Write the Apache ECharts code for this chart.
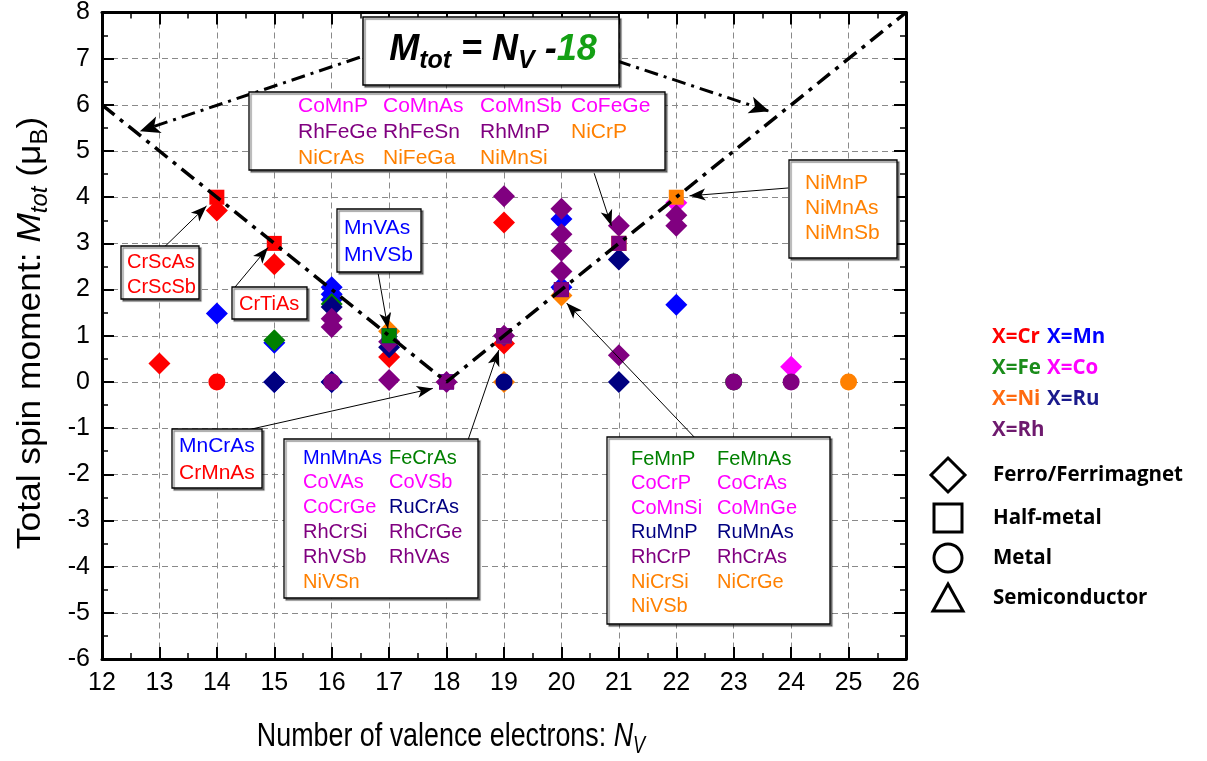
<!DOCTYPE html>
<html><head><meta charset="utf-8">
<script src="https://cdn.jsdelivr.net/npm/echarts@6/dist/echarts.min.js"></script>
<style>html,body{margin:0;padding:0;background:#fff}#c{width:1207px;height:761px}</style>
</head><body><div id="c"></div>
<script>
// ---------------- data (N_V, M_tot) ----------------
const crFerro = [[13,0.4],[14,3.71],[15,2.55],[17,0.54],[19,3.45],[19,0.83]];
const crHalf  = [[14,4],[15,3],[18,0]];
const crMetal = [[14,0]];
const mnFerro = [[14,1.48],[15,0.85],[15,0],[16,2.05],[16,1.9],[16,1.78],[16,0],[20,3.53],[20,2.05],[22,1.67]];
const mnHalf  = [[17,1],[18,0],[19,1]];
const mnMetal = [];
const feFerro = [[15,0.9],[16,1.69]];
const feHalf  = [[17,1],[19,1],[20,2],[21,3]];
const feMetal = [[23,0]];
const coFerro = [[22,3.88],[24,0.33]];
const coHalf  = [[19,1],[20,2],[21,3]];
const coMetal = [];
const niFerro = [[17,1.1],[19,0],[20,1.87]];
const niHalf  = [[19,1],[20,2],[21,3],[22,4]];
const niMetal = [[25,0]];
const ruFerro = [[15,0],[16,1.62],[16,0],[17,0.75],[21,2.65],[21,0]];
const ruHalf  = [[19,1],[20,2]];
const ruMetal = [[19,0]];
const rhFerro = [[16,1.37],[16,1.19],[17,0.87],[17,0.04],[18,0],[19,4.02],[19,1.0],[20,3.75],[20,3.2],[20,2.84],[20,2.39],[21,3.38],[21,0.58],[22,3.61],[22,3.38]];
const rhHalf  = [[18,0],[19,1],[20,2],[21,3]];
const rhMetal = [[16,0],[23,0],[24,0]];

// guide line M_tot = |N_V - 18|
const guideLine = [[12,6],[18,0],[26,8]];

// annotation arrows (data coordinates: from -> to)
const pointerArrows = [
  [[13.06,2.89],[13.82,3.81]],
  [[14.28,2.0],[14.89,2.91]],
  [[16.81,2.34],[16.98,1.15]],
  [[14.57,-1.03],[17.76,-0.14]],
  [[18.37,-1.27],[18.91,0.69]],
  [[22.34,-1.23],[20.09,1.71]],
  [[20.57,4.52],[20.87,3.38]],
  [[23.95,4.2],[22.23,4.03]]
];
const formulaArrows = [
  [[16.49,7.03],[12.66,5.43]],
  [[20.97,6.95],[23.62,5.86]]
];

// annotation texts
const boxTopNames  = [['CoMnP','Co'],['CoMnAs','Co'],['CoMnSb','Co'],['CoFeGe','Co'],['RhFeGe','Rh'],['RhFeSn','Rh'],['RhMnP','Rh'],['NiCrP','Ni'],['NiCrAs','Ni'],['NiFeGa','Ni'],['NiMnSi','Ni']];
const boxScNames   = [['CrScAs','Cr'],['CrScSb','Cr']];
const boxTiNames   = [['CrTiAs','Cr']];
const boxMnVNames  = [['MnVAs','Mn'],['MnVSb','Mn']];
const boxMnCrNames = [['MnCrAs','Mn'],['CrMnAs','Cr']];
const box19Names   = [['MnMnAs','Mn'],['FeCrAs','Fe'],['CoVAs','Co'],['CoVSb','Co'],['CoCrGe','Co'],['RuCrAs','Ru'],['RhCrSi','Rh'],['RhCrGe','Rh'],['RhVSb','Rh'],['RhVAs','Rh'],['NiVSn','Ni']];
const box20Names   = [['FeMnP','Fe'],['FeMnAs','Fe'],['CoCrP','Co'],['CoCrAs','Co'],['CoMnSi','Co'],['CoMnGe','Co'],['RuMnP','Ru'],['RuMnAs','Ru'],['RhCrP','Rh'],['RhCrAs','Rh'],['NiCrSi','Ni'],['NiCrGe','Ni'],['NiVSb','Ni']];
const box22Names   = [['NiMnP','Ni'],['NiMnAs','Ni'],['NiMnSb','Ni']];
const legendElems  = [['X=Cr','Cr'],['X=Mn','Mn'],['X=Fe','Fe'],['X=Co','Co'],['X=Ni','Ni'],['X=Ru','Ru'],['X=Rh','Rh']];
const legendShapes = ['Ferro/Ferrimagnet','Half-metal','Metal','Semiconductor'];
const xTitle = ['Number of valence electrons: ','N','V'];
const yTitle = ['Total spin moment: ','M','tot',' (μ','B',')'];

// ---------------- styling ----------------
const palette = {Cr:'#ff0000', Mn:'#0000ff', Fe:'#008000', Co:'#ff00ff', Ni:'#ff8000', Ru:'#000080', Rh:'#800080'};
const legendPalette = {Cr:'#ff0000', Mn:'#0000ff', Fe:'#1a8c1a', Co:'#ff00ff', Ni:'#ff6a10', Ru:'#1a1a8c', Rh:'#6e1a6e'};
const axisFont = "'Liberation Sans Narrow','Liberation Sans',Arial,sans-serif";
const textFont = "'Liberation Sans',Arial,sans-serif";
const legendFont = "'Open Sans',sans-serif";

const groups = [
  ['Cr', crFerro, crHalf, crMetal],
  ['Mn', mnFerro, mnHalf, mnMetal],
  ['Fe', feFerro, feHalf, feMetal],
  ['Co', coFerro, coHalf, coMetal],
  ['Ni', niFerro, niHalf, niMetal],
  ['Ru', ruFerro, ruHalf, ruMetal],
  ['Rh', rhFerro, rhHalf, rhMetal]
];
const shapes = [{symbol:'diamond', size:22, z:2},{symbol:'rect', size:15, z:3},{symbol:'circle', size:17, z:4}];

const series = [];
shapes.forEach((sh, k) => {
  groups.forEach(g => {
    const data = g[k+1];
    if (!data.length) return;
    series.push({
      type:'scatter', name:g[0]+k, data:data, symbol:sh.symbol, symbolSize:sh.size, z:sh.z,
      itemStyle:{color:palette[g[0]], opacity:1}, emphasis:{disabled:true}, silent:true
    });
  });
});

const mlData = [];
pointerArrows.forEach(a => mlData.push([
  {coord:a[0], symbol:'none'},
  {coord:a[1], symbol:'arrow', symbolSize:[9,16], lineStyle:{color:'#000', width:1, type:'solid'}}
]));
formulaArrows.forEach(a => mlData.push([
  {coord:a[0], symbol:'none'},
  {coord:a[1], symbol:'arrow', symbolSize:[13,20], lineStyle:{color:'#000', width:3, type:[14,6,3,6]}}
]));

series.push({
  type:'line', data:guideLine, symbol:'none', z:6, silent:true,
  lineStyle:{color:'#000', width:3.5, type:[16,7,4,7], cap:'butt'},
  markLine:{silent:true, animation:false, label:{show:false}, emphasis:{disabled:true},
    lineStyle:{color:'#000', width:1, type:'solid'}, data:mlData}
});

// ---------------- graphics (boxes / legend / titles) ----------------
const graphics = [];
function box(x,y,w,h,names,cols,y0,step,fs){
  graphics.push({type:'rect', z:100, shape:{x:x,y:y,width:w,height:h},
    style:{fill:'#fff', stroke:'#000', lineWidth:1.3, shadowColor:'rgba(0,0,0,0.45)', shadowOffsetX:2, shadowOffsetY:2, shadowBlur:1}});
  names.forEach((n,i) => {
    const c = i % cols.length, r = Math.floor(i / cols.length);
    graphics.push({type:'text', z:101, x:cols[c], y:y0 + r*step,
      style:{text:n[0], fill:palette[n[1]], fontSize:fs, fontFamily:textFont, align:'left', verticalAlign:'middle'}});
  });
}
box(249,92,416,78, boxTopNames, [298,383,480,571], 106, 26, 21);
box(121,246,78,53, boxScNames, [127], 262, 25, 20);
box(232,287,75,32, boxTiNames, [239], 304, 25, 20);
box(337,209,84,63, boxMnVNames, [344], 228, 27, 21);
box(172,429,90,59, boxMnCrNames, [179], 446, 27, 21);
box(284,439,194,159, box19Names, [303,389], 458, 24.8, 20);
box(607,437,223,187, box20Names, [631,717], 459, 24.6, 20);
box(789,160,108,98, box22Names, [805], 183, 25, 21);

// formula box
graphics.push({type:'rect', z:100, shape:{x:363,y:17,width:256,height:68},
  style:{fill:'#fff', stroke:'#000', lineWidth:1.5, shadowColor:'rgba(0,0,0,0.45)', shadowOffsetX:2, shadowOffsetY:2, shadowBlur:1}});
const fBase = {fontSize:36, fontWeight:'bold', fontStyle:'italic', fontFamily:textFont, lineHeight:48, fill:'#000'};
const fSub = {fontSize:25, fontWeight:'bold', fontStyle:'italic', fontFamily:textFont, lineHeight:22, verticalAlign:'bottom', fill:'#000'};
graphics.push({type:'text', z:101, x:493, y:50,
  style:{text:'{a|M}{s|tot}{a| = N}{s|V}{a| -}{g|18}', align:'center', verticalAlign:'middle',
    rich:{a:fBase, s:fSub, g:Object.assign({}, fBase, {fill:'#14a014'})}}});

// legend
legendElems.forEach((e,i) => {
  const c = i % 2, r = Math.floor(i/2);
  graphics.push({type:'text', z:101, x:[992,1047][c], y:337 + r*31,
    style:{text:e[0], fill:legendPalette[e[1]], fontSize:20.5, fontWeight:'bold', fontFamily:legendFont, align:'left', verticalAlign:'middle'}});
});
const lsY = [475,518,558,598];
legendShapes.forEach((t,i) => {
  graphics.push({type:'text', z:101, x:993, y:lsY[i],
    style:{text:t, fill:'#000', fontSize:20.5, fontWeight:'bold', fontFamily:legendFont, align:'left', verticalAlign:'middle'}});
});
const lsStyle = {fill:'none', stroke:'#000', lineWidth:3};
graphics.push({type:'polygon', z:101, shape:{points:[[948,458],[965,475],[948,492],[931,475]]}, style:lsStyle});
graphics.push({type:'rect', z:101, shape:{x:934,y:504,width:28,height:28}, style:lsStyle});
graphics.push({type:'circle', z:101, shape:{cx:948,cy:558,r:14}, style:lsStyle});
graphics.push({type:'polygon', z:101, shape:{points:[[948,584],[963,611],[933,611]]}, style:lsStyle});

// axis titles
const tRich = {
  n:{fontSize:34, fontFamily:textFont, fill:'#000', lineHeight:42},
  i:{fontSize:34, fontFamily:textFont, fontStyle:'italic', fill:'#000', lineHeight:42},
  s:{fontSize:23, fontFamily:textFont, fontStyle:'italic', fill:'#000', lineHeight:20, verticalAlign:'bottom'},
  b:{fontSize:23, fontFamily:textFont, fill:'#000', lineHeight:20, verticalAlign:'bottom'}
};
graphics.push({type:'text', z:101, x:451, y:737, scaleX:0.79, scaleY:1,
  style:{text:'{n|'+xTitle[0]+'}{i|'+xTitle[1]+'}{s|'+xTitle[2]+'}', rich:tRich, align:'center', verticalAlign:'middle'}});
graphics.push({type:'text', z:101, x:31, y:333, rotation:Math.PI/2, scaleX:1.04,
  style:{text:'{n|'+yTitle[0]+'}{i|'+yTitle[1]+'}{s|'+yTitle[2]+'}{n|'+yTitle[3]+'}{b|'+yTitle[4]+'}{n|'+yTitle[5]+'}', rich:tRich, align:'center', verticalAlign:'middle'}});

// ---------------- axes ----------------
const tickStyle = {color:'#000', width:2};
const baseX = {type:'value', min:12, max:26, interval:1};
const baseY = {type:'value', min:-6, max:8, interval:1};
const axisCommon = {
  axisLine:{show:true, onZero:false, lineStyle:{color:'#000', width:3}},
  axisTick:{show:true, inside:true, length:12, lineStyle:tickStyle},
  minorTick:{show:true, splitNumber:2, length:6, lineStyle:{color:'#000', width:1.5}}
};

const option = {
  animation:false,
  backgroundColor:'#fff',
  grid:{left:102, right:301, top:8, bottom:102},
  xAxis:[
    Object.assign({}, baseX, axisCommon, {
      position:'bottom',
      axisLabel:{color:'#000', fontSize:25, margin:12, fontFamily:axisFont},
      splitLine:{show:true, lineStyle:{color:'#8a8a8a', width:1, type:[6,4]}}
    }),
    Object.assign({}, baseX, axisCommon, {position:'top', axisLabel:{show:false}, splitLine:{show:false}})
  ],
  yAxis:[
    Object.assign({}, baseY, axisCommon, {
      position:'left',
      axisLabel:{color:'#000', fontSize:25, margin:12, fontFamily:axisFont},
      splitLine:{show:true, lineStyle:{color:'#8a8a8a', width:1, type:[6,4]}}
    }),
    Object.assign({}, baseY, axisCommon, {position:'right', axisLabel:{show:false}, splitLine:{show:false}})
  ],
  series:series,
  graphic:graphics
};
const chart = echarts.init(document.getElementById('c'), null, {renderer:'canvas'});
chart.setOption(option);
</script></body></html>
